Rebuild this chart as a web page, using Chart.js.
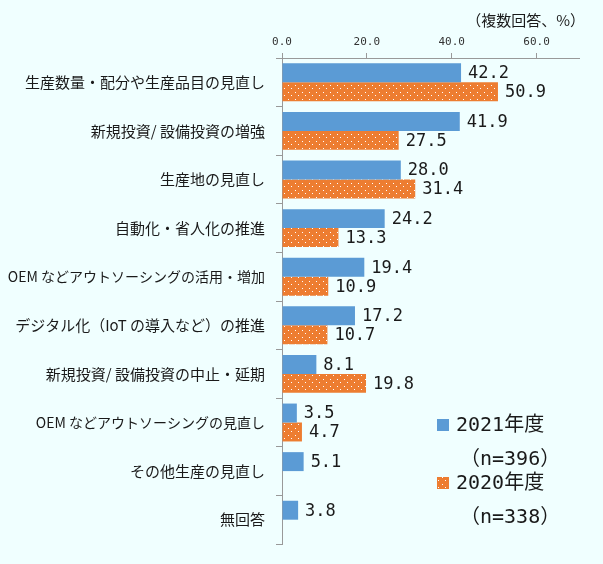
<!DOCTYPE html>
<html lang="ja">
<head>
<meta charset="utf-8">
<script src="https://cdn.jsdelivr.net/npm/chart.js@4.4.1/dist/chart.umd.min.js"></script>
<style>
  html, body { margin: 0; padding: 0; background: #f0ffff; }
  canvas { display: block; }
</style>
</head>
<body>
<canvas id="chart" width="603" height="564"></canvas>
<script>
const categories = [
  "生産数量・配分や生産品目の見直し",
  "新規投資/ 設備投資の増強",
  "生産地の見直し",
  "自動化・省人化の推進",
  "OEM などアウトソーシングの活用・増加",
  "デジタル化（IoT の導入など）の推進",
  "新規投資/ 設備投資の中止・延期",
  "OEM などアウトソーシングの見直し",
  "その他生産の見直し",
  "無回答"
];
const values2021 = [42.2, 41.9, 28.0, 24.2, 19.4, 17.2, 8.1, 3.5, 5.1, 3.8];
const values2020 = [50.9, 27.5, 31.4, 13.3, 10.9, 10.7, 19.8, 4.7, null, null];
const seriesNames = ["2021年度", "2020年度"];
const seriesNotes = ["（n=396）", "（n=338）"];
const xTicks = [0, 20, 40, 60];

const BLUE = "#5b9bd5";
const ORANGE = "#ed7d31";
const JP = "'Noto Sans CJK JP', 'Noto Sans', sans-serif";
const MONO = "'DejaVu Sans Mono', 'Noto Sans CJK JP', monospace";

/* ========= dotted orange fill ========= */
function dotPattern() {
  const c = document.createElement("canvas");
  c.width = 7; c.height = 7;
  const g = c.getContext("2d");
  g.fillStyle = ORANGE;
  g.fillRect(0, 0, 7, 7);
  g.fillStyle = "#ffffff";
  g.fillRect(1, 1, 1, 1);
  g.fillRect(4, 4, 1, 1);
  return g.createPattern(c, "repeat");
}
const orangeFill = dotPattern();

/* ========= background, value labels, legend ========= */
const decorations = {
  id: "decorations",
  beforeDraw(chart) {
    const ctx = chart.ctx;
    ctx.save();
    ctx.fillStyle = "#f0ffff";
    ctx.fillRect(0, 0, chart.width, chart.height);
    ctx.restore();
  },
  afterDatasetsDraw(chart) {
    const ctx = chart.ctx;
    ctx.save();
    ctx.font = "17px " + MONO;
    ctx.fillStyle = "#1a1a1a";
    ctx.textAlign = "left";
    ctx.textBaseline = "middle";
    chart.data.datasets.forEach((ds, i) => {
      chart.getDatasetMeta(i).data.forEach((bar, j) => {
        const v = ds.data[j];
        if (v === null || v === undefined) return;
        ctx.fillText(v.toFixed(1), bar.x + 7, bar.y + 1);
      });
    });
    ctx.restore();
  },
  afterDraw(chart) {
    const ctx = chart.ctx;
    ctx.save();
    // unit note
    ctx.font = "15px " + JP;
    ctx.fillStyle = "#1a1a1a";
    ctx.textAlign = "right";
    ctx.textBaseline = "middle";
    ctx.fillText("（複数回答、%）", 585, 20);

    // legend
    const fills = [BLUE, orangeFill];
    const rows = [425, 483];
    ctx.textAlign = "left";
    rows.forEach((y, i) => {
      ctx.fillStyle = fills[i];
      ctx.fillRect(437, y - 6, 12, 12);
      ctx.fillStyle = "#1a1a1a";
      ctx.font = "20px " + MONO;
      ctx.fillText(seriesNames[i], 456, y + 1);
      ctx.fillText(seriesNotes[i], 460, y + 35);
    });
    ctx.restore();
  }
};

new Chart(document.getElementById("chart"), {
  type: "bar",
  data: {
    labels: categories,
    datasets: [
      { label: seriesNames[0], data: values2021, backgroundColor: BLUE },
      { label: seriesNames[1], data: values2020, backgroundColor: orangeFill }
    ]
  },
  options: {
    indexAxis: "y",
    responsive: false,
    animation: false,
    devicePixelRatio: 1,
    layout: { padding: { top: 0, right: 24, bottom: 18, left: 0 } },
    datasets: { bar: { categoryPercentage: 0.78, barPercentage: 1 } },
    plugins: {
      legend: { display: false },
      tooltip: { enabled: false }
    },
    scales: {
      x: {
        position: "top",
        min: 0,
        max: 70,
        bounds: "data",
        afterBuildTicks: s => { s.ticks = xTicks.map(v => ({ value: v })); },
        afterFit: s => { s.height = 58; },
        ticks: {
          font: { family: MONO, size: 11 },
          color: "#333333",
          padding: 4,
          maxRotation: 0,
          callback: v => Number(v).toFixed(1)
        },
        grid: { drawOnChartArea: false, tickLength: 5, color: "#999999" },
        border: { color: "#999999" }
      },
      y: {
        offset: true,
        afterFit: s => { s.width = 282; },
        ticks: {
          // the katakana-heavy OEM labels run wide in this font, so they get a smaller size
          font: c => ({ family: JP, size: /^OEM/.test(categories[c.index] || "") ? 14 : 15 }),
          color: "#1a1a1a",
          padding: 11
        },
        grid: { drawOnChartArea: false, offset: true, tickLength: 6, color: "#999999" },
        border: { color: "#999999" }
      }
    }
  },
  plugins: [decorations]
});
</script>
</body>
</html>
